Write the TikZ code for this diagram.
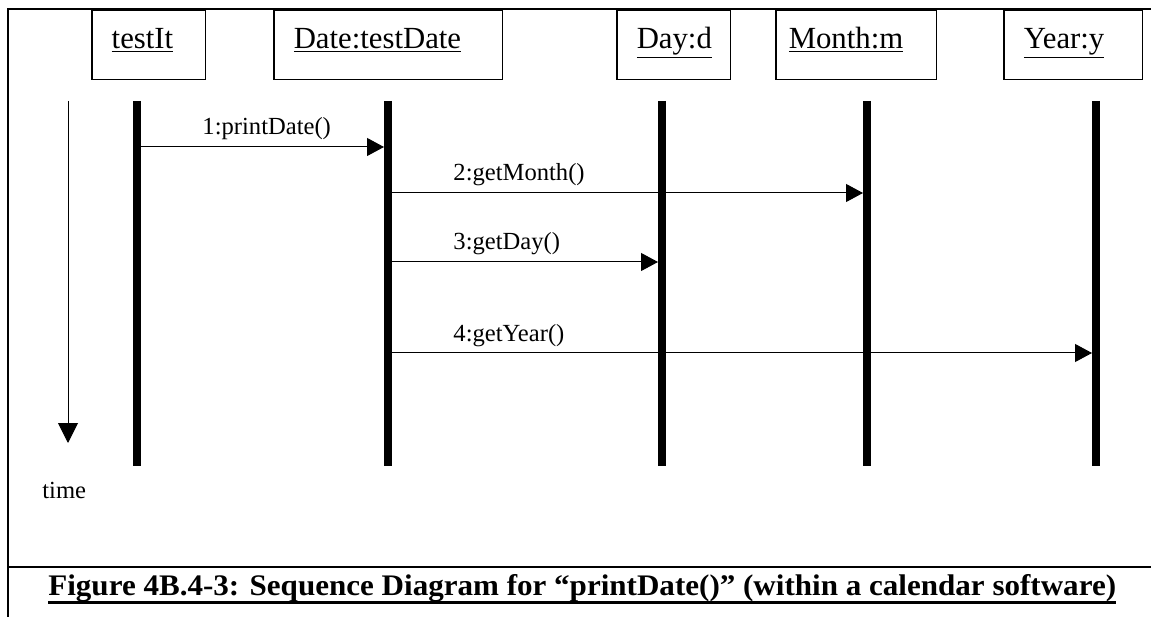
\documentclass[tikz,border=0pt]{standalone}
\usepackage{fontspec}
\setmainfont{Liberation Serif}
\usetikzlibrary{arrows.meta, positioning, calc}
\tikzset{
  objbox/.style = {rectangle, draw, line width=0.03cm, anchor=north west,
    inner xsep=0.4cm, inner ysep=0pt, align=left,
    text height=0.76cm, text depth=0.62cm, font=\fontsize{17.5}{20}\selectfont},
  life/.style = {line width=0.16cm},
  msg/.style = {line width=0.02cm, -{Triangle[length=0.34cm, width=0.36cm]},
    shorten <=0.08cm, shorten >=0.08cm},
  msglabel/.style = {anchor=base west, inner sep=0pt, xshift=1.3cm, yshift=0.24cm,
    font=\fontsize{14}{16}\selectfont},
  timearrow/.style = {line width=0.02cm, -{Triangle[length=0.4cm, width=0.4cm]}},
  frame/.style = {line width=0.05cm},
}

\begin{document}
\begin{tikzpicture}[x=0.02cm, y=-0.02cm]
  \useasboundingbox (0,0) rectangle (1151,617);

  % Frame
  \draw[frame] (1151,9) -- (8,9) -- (8,617);
  \draw[frame] (8,567) -- (1151,567);

  % Objects
  \node[objbox, text width=1.48cm] (testIt) at (91,10)   {\underline{testIt}};
  \node[objbox, text width=3.78cm] (date)   at (273,10)  {\underline{Date:testDate}};
  \node[objbox, text width=1.48cm] (day)    at (616,10)  {\underline{Day:d}};
  \node[objbox, inner xsep=0.26cm, text width=2.7cm] (month) at (775,10) {\underline{Month:m}};
  \node[objbox, text width=1.98cm] (year)   at (1003,10) {\underline{Year:y}};

  % Lifelines
  \coordinate (lTest)  at (137,101);
  \coordinate (lDate)  at (388,101);
  \coordinate (lDay)   at (662,101);
  \coordinate (lMonth) at (867,101);
  \coordinate (lYear)  at (1096,101);
  \coordinate (lifeEnd) at (0,466);
  \foreach \l in {lTest, lDate, lDay, lMonth, lYear}
    \draw[life] (\l) -- (\l |- lifeEnd);

  % Time axis
  \coordinate (tTop) at (68,101);
  \coordinate (tBot) at (68,443);
  \draw[timearrow] (tTop) -- (tBot);
  \node[anchor=base west, inner sep=0pt, font=\fontsize{14}{16}\selectfont] (time) at (42,498) {time};

  % Messages
  \coordinate (y1) at (0,147);
  \coordinate (y2) at (0,193);
  \coordinate (y3) at (0,262);
  \coordinate (y4) at (0,353);
  \draw[msg] (lTest |- y1) -- (lDate |- y1)  node[msglabel, pos=0] {1:printDate()};
  \draw[msg] (lDate |- y2) -- (lMonth |- y2) node[msglabel, pos=0] {2:getMonth()};
  \draw[msg] (lDate |- y3) -- (lDay |- y3)   node[msglabel, pos=0] {3:getDay()};
  \draw[msg] (lDate |- y4) -- (lYear |- y4)  node[msglabel, pos=0] {4:getYear()};

  % Caption
  \node[anchor=base west, inner sep=0pt, font=\fontsize{17}{19}\selectfont\bfseries] (caption) at (48,595)
    {\scalebox{1.04}[1]{Figure 4B.4-3: Sequence Diagram for “printDate()” (within a calendar software)}};
  \draw[line width=0.06cm] ([yshift=-4pt]caption.base west) -- ([yshift=-4pt]caption.base east);

\end{tikzpicture}
\end{document}
